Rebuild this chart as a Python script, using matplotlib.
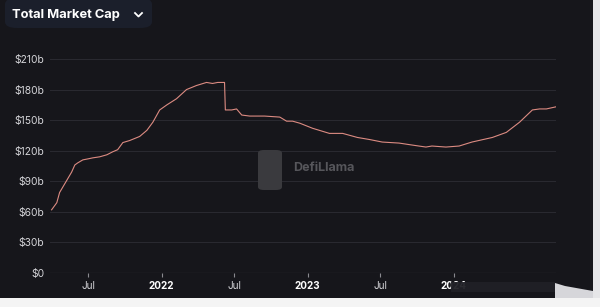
import numpy as np
import pandas as pd
import matplotlib
matplotlib.use("Agg")
import matplotlib.pyplot as plt
from matplotlib.patches import FancyBboxPatch, Rectangle, Polygon

# values (stablecoin total market cap, $b)
dates = [
    "2021-04-01", "2021-04-14", "2021-04-21", "2021-05-09", "2021-05-21",
    "2021-05-29", "2021-06-05", "2021-06-18", "2021-07-01", "2021-07-13",
    "2021-07-30", "2021-08-17", "2021-09-01", "2021-09-13", "2021-09-26",
    "2021-10-13", "2021-11-07", "2021-11-25", "2021-12-10", "2021-12-27",
    "2022-01-14", "2022-02-07", "2022-03-04", "2022-03-29", "2022-04-23",
    "2022-05-08", "2022-05-21", "2022-06-07", "2022-06-09", "2022-06-25",
    "2022-07-07", "2022-07-20", "2022-08-09", "2022-09-15", "2022-10-23",
    "2022-11-09", "2022-11-24", "2022-12-12", "2023-01-13", "2023-02-24",
    "2023-03-29", "2023-05-05", "2023-06-04", "2023-07-06", "2023-08-17",
    "2023-09-18", "2023-10-23", "2023-11-07", "2023-12-12", "2024-01-14",
    "2024-02-15", "2024-04-06", "2024-05-11", "2024-06-13", "2024-07-15",
    "2024-08-02", "2024-08-19", "2024-09-11",
]
mcap = [
    62, 69, 79, 91, 99,
    106, 108, 111, 112, 113,
    114, 116, 119, 121, 128,
    130, 134, 140, 148, 160,
    165, 171, 180, 184, 187,
    186, 187, 187, 160, 160,
    161, 155, 154, 154, 153,
    149, 149, 147, 142, 137,
    137, 133, 131, 128.5, 127.5,
    125.6, 123.6, 124.6, 123.6, 124.6,
    128.5, 133, 138, 148, 160,
    161, 161, 163,
]
yticks = [0, 30, 60, 90, 120, 150, 180, 210]
ytick_labels = ["$0", "$30b", "$60b", "$90b", "$120b", "$150b", "$180b", "$210b"]
xticks = ["2021-07-01", "2022-01-01", "2022-07-01", "2023-01-01", "2023-07-01", "2024-01-01"]
xtick_labels = ["Jul", "2022", "Jul", "2023", "Jul", "2024"]

BG = "#16161b"
W, H = 600, 307

fig = plt.figure(figsize=(W / 100, H / 100), dpi=100, facecolor=BG)
plt.rcParams["font.family"] = ["Inter", "DejaVu Sans"]

ax = fig.add_axes([50 / W, 1 - 273 / H, (556 - 50) / W, (273 - 59) / H])
ax.set_facecolor(BG)
ax.plot(pd.to_datetime(dates), mcap, color="#dc8b82", lw=0.8, zorder=3)

ax.set_xlim(pd.Timestamp("2021-03-28"), pd.Timestamp("2024-09-12"))
ax.set_ylim(0, 210)
ax.set_yticks(yticks)
ax.set_yticklabels(ytick_labels)
ax.set_xticks(pd.to_datetime(xticks))
ax.set_xticklabels(xtick_labels)
for s in ax.spines.values():
    s.set_visible(False)
ax.grid(axis="y", color="#2a2a31", lw=0.7)
ax.axhline(0, color="#5a5a60", lw=0.8, zorder=2)
ax.tick_params(axis="y", length=0, pad=4, labelsize=7.4, labelcolor="#d4d4d8")
ax.tick_params(axis="x", length=3, width=0.8, color="#8a8a90", pad=3,
               labelsize=7.2, labelcolor="#d4d4d8")
for lbl in ax.get_xticklabels():
    if lbl.get_text().startswith("20"):
        lbl.set_fontweight("bold")
        lbl.set_color("white")

# title pill
fig.patches.append(FancyBboxPatch((5 / W, 1 - 28 / H), 147 / W, 30 / H,
                                  boxstyle="round,pad=0,rounding_size=0.02",
                                  transform=fig.transFigure, fc="#1b1f2b", ec="none"))
fig.text(12 / W, 1 - 15 / H, "Total Market Cap", color="white", fontsize=9.3,
         fontweight="bold", va="center", ha="left")
fig.lines.append(plt.Line2D([135 / W, 138.5 / W, 142 / W],
                            [1 - 13 / H, 1 - 16.5 / H, 1 - 13 / H],
                            transform=fig.transFigure, color="white", lw=1.3))

# watermark
fig.patches.append(FancyBboxPatch((258 / W, 1 - 190 / H), 24 / W, 40 / H,
                                  boxstyle="round,pad=0,rounding_size=0.01",
                                  transform=fig.transFigure, fc="#3a3a3e", ec="none"))
fig.text(293 / W, 1 - 168 / H, "DefiLlama", color="#56565b", fontsize=9,
         fontweight="bold", va="center", ha="left")

# light borders along the right and bottom edges of the screenshot
fig.patches.append(Rectangle((593 / W, 0), 7 / W, 1, transform=fig.transFigure,
                             fc="#e6e6e8", ec="none"))
fig.patches.append(Rectangle((0, 0), 1, 9 / H, transform=fig.transFigure,
                             fc="#f4f4f4", ec="none"))
# smudge in the lower right corner
fig.patches.append(Polygon([(555 / W, 9 / H), (555 / W, 1 - 283 / H),
                            (565 / W, 1 - 286 / H), (593 / W, 1 - 291 / H),
                            (593 / W, 9 / H)],
                           transform=fig.transFigure, fc="#d6d6da", ec="none"))
fig.patches.append(Rectangle((451 / W, 1 - 292 / H), 104 / W, 10 / H,
                             transform=fig.transFigure, fc="#202026", ec="none", alpha=0.95))

fig.savefig("out.png", dpi=100, facecolor=BG)
